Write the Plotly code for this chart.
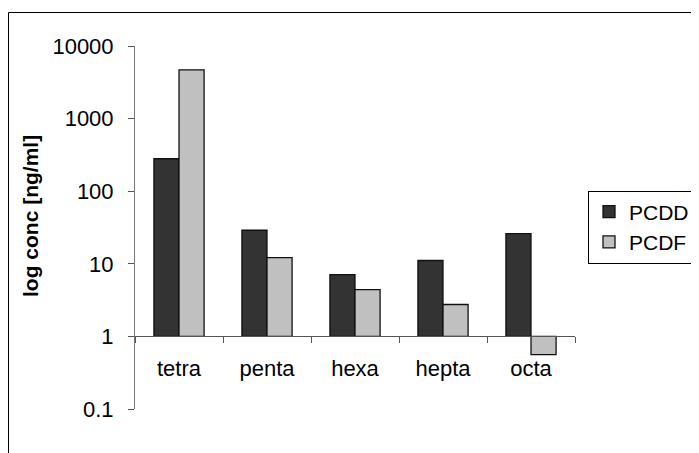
import plotly.graph_objects as go

categories = ["tetra", "penta", "hexa", "hepta", "octa"]
pcdd = [280, 29, 7.1, 11.1, 26]
pcdf = [4700, 12.2, 4.4, 2.75, 0.56]
tick_vals = [0.1, 1, 10, 100, 1000, 10000]
tick_text = ["0.1", "1", "10", "100", "1000", "10000"]
BASE = 1

# page body has an 8px margin, so work in page coords minus 8
OFF = 8
W, H = 699 - OFF, 453 - OFF
PL, PR, PT, PB = 135, 575, 46, 409  # plot area in page coords
L = PL - OFF
T = PT - OFF
R = W - (PR - OFF)
B = H - (PB - OFF)
pw = PR - PL
ph = PB - PT


def px(xp):
    return (xp - PL) / pw


def py(yp):
    return (PB - yp) / ph


fig = go.Figure()
fig.add_trace(go.Bar(
    x=categories, y=[v - BASE for v in pcdd], base=BASE, name="PCDD",
    marker=dict(color="#333333", line=dict(color="#111111", width=1.3)),
    customdata=pcdd, hovertemplate="%{x}: %{customdata}<extra>PCDD</extra>",
))
fig.add_trace(go.Bar(
    x=categories, y=[v - BASE for v in pcdf], base=BASE, name="PCDF",
    marker=dict(color="#C0C0C0", line=dict(color="#111111", width=1.3)),
    customdata=pcdf, hovertemplate="%{x}: %{customdata}<extra>PCDF</extra>",
))

font = dict(family="Liberation Sans, Arial, sans-serif", size=22, color="#000000")

fig.update_layout(
    width=W, height=H,
    margin=dict(l=L, r=R, t=T, b=B, pad=0, autoexpand=False),
    paper_bgcolor="white", plot_bgcolor="white",
    font=font,
    barmode="group", bargap=0.43, bargroupgap=0,
    showlegend=True,
    legend=dict(
        x=px(588), y=py(227), xanchor="left", yanchor="middle",
        bordercolor="#000000", borderwidth=1, bgcolor="white",
        font=dict(size=21), itemwidth=30, tracegroupgap=2,
    ),
    xaxis=dict(
        anchor="free", position=(0 - (-1)) / 5,
        showline=True, linecolor="#555555", linewidth=1,
        ticks="outside", tickson="boundaries", ticklen=6, tickcolor="#555555",
        ticklabelstandoff=12, showgrid=False, zeroline=False,
        range=[-0.5, 4.5],
    ),
    yaxis=dict(
        type="log", range=[-1, 4],
        tickvals=tick_vals, ticktext=tick_text,
        showline=True, linecolor="#777777", linewidth=1,
        ticks="outside", ticklen=6, tickcolor="#555555",
        ticklabelstandoff=10, showgrid=False, zeroline=False,
    ),
)

fig.add_annotation(
    text="<b>log conc [ng/ml]</b>", textangle=-90,
    xref="paper", yref="paper",
    x=px(31), y=py(216),
    xanchor="center", yanchor="middle", showarrow=False,
    font=dict(size=21),
)

fig.add_shape(
    type="rect", xref="paper", yref="paper",
    x0=px(8.5), y0=py(470),
    x1=px(720), y1=py(12.5),
    line=dict(color="#000000", width=1), fillcolor="rgba(0,0,0,0)", layer="below",
)

fig.write_html("out.html")
